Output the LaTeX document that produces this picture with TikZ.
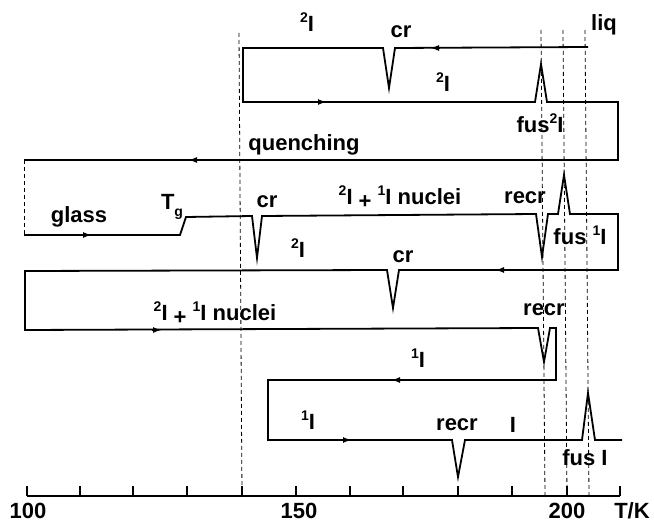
\documentclass[tikz,border=0pt]{standalone}
\usepackage{fontspec}
\setmainfont{Liberation Sans}
\usetikzlibrary{arrows.meta}
\newcommand\phsup[1]{\raisebox{0.42em}{\fontsize{14}{14}\selectfont #1}}
\begin{document}
\begin{tikzpicture}[x=1pt,y=-1pt,
  curve/.style={line width=1.8pt, line join=miter, miter limit=20},
  guide/.style={line width=0.8pt, dash pattern=on 4pt off 3pt},
  tip/.style={-{Latex[length=9pt,width=6pt]}, line width=1.8pt},
  axisline/.style={line width=1.4pt},
  lab/.style={font=\fontsize{22}{22}\selectfont\bfseries, inner sep=0pt}]
\useasboundingbox (0,0) rectangle (654,524);

% dashed guide lines
\draw[guide] (239,33) -- (242,496);
\draw[guide] (541,30) -- (545,496);
\draw[guide] (563,30) -- (567,496);
\draw[guide] (585,30) -- (589,496);

% DSC trace
\draw[curve] (588,47) -- (395,48) -- (389,88) -- (383,48) -- (243,48) -- (243,102)
  -- (535,102) -- (541,64) -- (547,102) -- (618,102) -- (618,160) -- (24,160);
\draw[guide] (24,160) -- (24,235);
\draw[curve] (24,235) -- (180,235) -- (186,217) -- (252,216) -- (257,258) -- (262,216)
  -- (536,214) -- (542,257) -- (548,214) -- (558,214) -- (564,175) -- (570,214)
  -- (618,214) -- (618,270) -- (399,270) -- (393,308) -- (387,270) -- (25,271)
  -- (25,330) -- (538,328) -- (544,362) -- (550,328) -- (556,328) -- (556,380)
  -- (268,380) -- (268,440) -- (452,440) -- (458,477) -- (465,440) -- (582,440)
  -- (588,393) -- (595,440) -- (622,440);

% direction arrows
\draw[tip] (440,48) -- (430,48);
\draw[tip] (317,102) -- (327,102);
\draw[tip] (198,160) -- (188,160);
\draw[tip] (82,235) -- (92,235);
\draw[tip] (505,270) -- (495,270);
\draw[tip] (152,330) -- (162,330);
\draw[tip] (401,380) -- (391,380);
\draw[tip] (342,440) -- (352,440);

% axis
\draw[axisline] (27,496) -- (620,496);
\foreach \tx in {27,80,133,187,242,296,350,403,458,512,567,620}
  \draw[axisline] (\tx,496) -- (\tx,486);
\node[lab] (a100) at (28,511) {100};
\node[lab] (a150) at (299,511) {150};
\node[lab] (a200) at (567,511) {200};
\node[lab] (aTK) at (632,511) {T/K};

% labels
\node[lab] (t2a) at (307,22) {\phsup{2}I};
\node[lab] (tcr1) at (401,32) {cr};
\node[lab] (tliq) at (604,25) {liq};
\node[lab] (t2b) at (443,82) {\phsup{2}I};
\node[lab] (tfus2) at (540,123) {fus\phsup{2}I};
\node[lab] (tquen) at (304,145) {quenching};
\node[lab] (tglass) at (79,217) {glass};
\node[lab] (tTg) at (172,207) {T\raisebox{-0.3em}{\fontsize{14}{14}\selectfont g}};
\node[lab] (tcr2) at (267,202) {cr};
\node[lab] (tnuc1) at (400,197) {\phsup{2}I \raisebox{-0.15em}{+} \phsup{1}I nuclei};
\node[lab] (trecr1) at (525,198) {recr};
\node[lab] (tfus1) at (580,235) {fus \phsup{1}I};
\node[lab] (t2c) at (298,248) {\phsup{2}I};
\node[lab] (tcr3) at (403,257) {cr};
\node[lab] (tnuc2) at (215,313) {\phsup{2}I \raisebox{-0.15em}{+} \phsup{1}I nuclei};
\node[lab] (trecr2) at (544,310) {recr};
\node[lab] (t1a) at (418,358) {\phsup{1}I};
\node[lab] (t1b) at (308,420) {\phsup{1}I};
\node[lab] (trecr3) at (457,425) {recr};
\node[lab] (tI) at (513,425) {I};
\node[lab] (tfus3) at (585,458) {fus I};
\end{tikzpicture}
\end{document}
